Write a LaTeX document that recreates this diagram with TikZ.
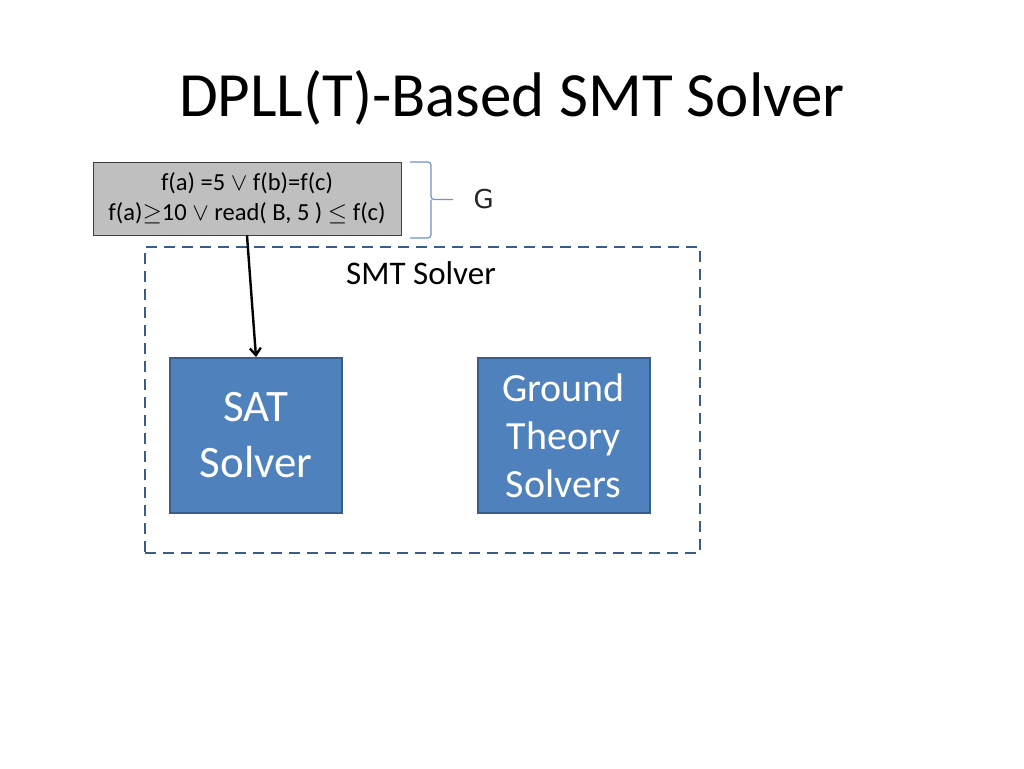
\documentclass[tikz,border=0pt]{standalone}
\usepackage{fontspec}
\setmainfont{Carlito}
\newfontfamily\gfont{DejaVu Sans}
\usetikzlibrary{positioning, arrows.meta}
\definecolor{boxblue}{HTML}{4F81BD}
\definecolor{edgeblue}{HTML}{385D8A}
\definecolor{bracecol}{HTML}{6D94C6}
\definecolor{formgray}{HTML}{BFBFBF}

\tikzset{
	solver/.style = {rectangle, draw=edgeblue, line width=2pt, fill=boxblue, text=white,
		minimum width=172pt, minimum height=155pt, align=center},
	formula/.style = {rectangle, draw=black!75, line width=1pt, fill=formgray,
		minimum width=308pt, minimum height=73pt, align=center, font=\fontsize{24.5}{30}\selectfont},
	line/.style = {draw, line width=2.4pt, -{Straight Barb[length=7pt, width=11pt]}}
}

\begin{document}
\begin{tikzpicture}[x=1pt, y=-1pt, node distance = 1cm, auto]
			\useasboundingbox (0,0) rectangle (1024,768);
			\node [font=\fontsize{63}{75}\selectfont] (title) at (512,98) {DPLL(T)-Based SMT Solver};
			\node [formula] (formulas) at (247,198.5) {f(a) =5 $\vee$ f(b)=f(c)\\ f(a)$\geq$10 $\vee$ read( B, 5 ) $\leq$ f(c)};
			\node [rectangle, draw=edgeblue, line width=2.4pt, dash pattern=on 11pt off 7pt,
				minimum width=555pt, minimum height=306pt] (smt) at (422.5,400) {};
			\node [font=\fontsize{33}{40}\selectfont] (smtlabel) at (421,273) {SMT Solver};
			\node [solver, font=\fontsize{45}{56}\selectfont] (sat) at (256,435.5) {SAT\\ Solver};
			\node [solver, font=\fontsize{40}{48}\selectfont] (theory) at (563.5,435.5) {Ground\\ Theory\\ Solvers};
			\coordinate (bracetop) at (410,162);
			\coordinate (bracebot) at (410,238);
			\coordinate (bracetip) at (453,199.5);
			\node [right=17pt of bracetip, font=\gfont\fontsize{26}{30}\selectfont, text=black!85] (goal) {G};
			\draw [bracecol, line width=1.2pt, rounded corners=3pt] (bracetop) -- (431,162) -- (431,199.5) -- (bracetip);
			\draw [bracecol, line width=1.2pt, rounded corners=3pt] (bracebot) -- (431,238) -- (431,199.5);
			\path [line] (formulas.south) -- (sat.north);
		\end{tikzpicture}
\end{document}
